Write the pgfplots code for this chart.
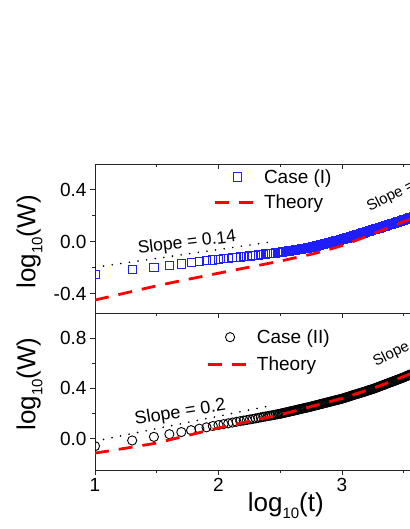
\documentclass[border=0pt]{standalone}
\usepackage{fontspec}
\setmainfont{Liberation Sans}
\usepackage{pgfplots}
\pgfplotsset{compat=1.18}
\pgfplotsset{
  panel/.style={
    scale only axis, width=370.5pt, xmin=1, xmax=4,
    axis line style={line width=0.9pt, black!85},
    tick style={line width=0.9pt, black!85},
    major tick length=5pt, minor tick length=3pt,
    tick align=outside, xtick pos=left, ytick pos=left,
    xtick={1,2,3,4}, minor x tick num=1, minor y tick num=1,
    ticklabel style={font=\fontsize{19}{19}\selectfont},
    clip marker paths=true,
    legend image code/.code={\draw[mark repeat=2,mark phase=2,##1] plot coordinates {(0pt,0pt) (22.5pt,0pt) (45pt,0pt)};},
    legend style={draw=none, fill=none, font=\fontsize{19}{19}\selectfont, inner sep=0pt, row sep=4pt, nodes={inner sep=3pt}},
    legend cell align=left,
    ylabel style={font=\fontsize{26}{26}\selectfont, anchor=center},
  },
  dots/.style={black, line width=1.8pt, line cap=round, dash pattern=on 0pt off 8.7pt},
  theory/.style={red, line width=2.8pt, dash pattern=on 14pt off 10pt, mark=none},
}
\definecolor{sqblue}{RGB}{30,30,255}
\newcommand{\lsub}{\raisebox{-7pt}{\fontsize{15}{15}\selectfont 10}}
\begin{document}
\begin{tikzpicture}
% ---------------- top panel ----------------
\begin{axis}[panel, at={(95pt,-164pt)}, anchor=north west, height=149pt,
  ymin=-0.55, ymax=0.6, ytick={-0.4,0,0.4}, yticklabels={-0.4,0.0,0.4},
  xticklabels={},
  ylabel={log\lsub(W)},
  ylabel style={at={(axis description cs:-0.177,0.477)}},
  legend style={at={(axis description cs:0.3185,0.985)}, anchor=north west}]
\addplot[dots, forget plot] coordinates {(1,-0.197) (2.40,-0.005)};
\addplot[only marks, mark=square, mark size=4.1pt, color=sqblue, draw=sqblue, mark options={draw=sqblue, line width=0.9pt},
  legend image post style={color=sqblue, draw=sqblue, mark options={draw=sqblue, line width=1pt}}] coordinates {
(1.000,-0.255)(1.301,-0.215)(1.477,-0.196)(1.602,-0.182)(1.699,-0.172)(1.778,-0.162)(1.845,-0.154)(1.903,-0.147)(1.954,-0.141)(2.000,-0.135)
(2.041,-0.131)(2.079,-0.127)(2.114,-0.124)(2.146,-0.120)(2.176,-0.117)(2.204,-0.115)(2.230,-0.112)(2.255,-0.109)(2.279,-0.107)(2.301,-0.104)
(2.322,-0.102)(2.342,-0.100)(2.362,-0.097)(2.380,-0.095)(2.398,-0.093)(2.415,-0.091)(2.431,-0.090)(2.447,-0.088)(2.462,-0.086)(2.477,-0.085)
(2.49,-0.083)(2.50,-0.082)(2.51,-0.080)(2.52,-0.079)(2.53,-0.077)(2.54,-0.076)(2.55,-0.074)(2.56,-0.073)(2.57,-0.071)(2.58,-0.070)
(2.59,-0.068)(2.60,-0.066)(2.61,-0.065)(2.62,-0.063)(2.63,-0.062)(2.64,-0.060)(2.65,-0.059)(2.66,-0.057)(2.67,-0.056)(2.68,-0.054)
(2.69,-0.052)(2.70,-0.051)(2.71,-0.049)(2.72,-0.048)(2.73,-0.046)(2.74,-0.045)(2.75,-0.043)(2.76,-0.041)(2.77,-0.038)(2.78,-0.036)
(2.79,-0.033)(2.80,-0.031)(2.81,-0.028)(2.82,-0.026)(2.83,-0.023)(2.84,-0.021)(2.85,-0.019)(2.86,-0.016)(2.87,-0.014)(2.88,-0.011)
(2.89,-0.009)(2.90,-0.006)(2.91,-0.004)(2.92,-0.001)(2.93,0.001)(2.94,0.004)(2.95,0.006)(2.96,0.008)(2.97,0.011)(2.98,0.013)
(2.99,0.016)(3.00,0.018)(3.01,0.021)(3.02,0.024)(3.03,0.027)(3.04,0.030)(3.05,0.033)(3.06,0.036)(3.07,0.039)(3.08,0.042)
(3.09,0.045)(3.10,0.048)(3.11,0.051)(3.12,0.054)(3.13,0.056)(3.14,0.059)(3.15,0.062)(3.16,0.065)(3.17,0.068)(3.18,0.071)
(3.19,0.074)(3.20,0.077)(3.21,0.080)(3.22,0.083)(3.23,0.086)(3.24,0.089)(3.25,0.092)(3.26,0.095)(3.27,0.098)(3.28,0.101)
(3.29,0.104)(3.30,0.107)(3.31,0.110)(3.32,0.113)(3.33,0.116)(3.34,0.119)(3.35,0.122)(3.36,0.125)(3.37,0.128)(3.38,0.131)
(3.39,0.134)(3.40,0.137)(3.41,0.141)(3.42,0.144)(3.43,0.147)(3.44,0.150)(3.45,0.153)(3.46,0.156)(3.47,0.159)(3.48,0.162)
(3.49,0.165)(3.50,0.168)(3.51,0.171)(3.52,0.174)(3.53,0.177)(3.54,0.180)(3.55,0.183)(3.56,0.186)(3.57,0.189)(3.58,0.192)
(3.59,0.195)(3.60,0.198)};
\addlegendentry{Case (I)}
\addplot[theory] coordinates {
(1.0,-0.450)(1.1,-0.428)(1.2,-0.406)(1.3,-0.384)(1.4,-0.362)(1.5,-0.340)(1.6,-0.320)(1.7,-0.300)(1.8,-0.281)(1.9,-0.262)
(2.0,-0.243)(2.1,-0.224)(2.2,-0.205)(2.3,-0.187)(2.4,-0.168)(2.5,-0.150)(2.6,-0.128)(2.7,-0.108)(2.8,-0.085)(2.9,-0.058)
(3.0,-0.030)(3.1,0.005)(3.2,0.042)(3.3,0.079)(3.4,0.117)(3.5,0.155)(3.6,0.190)(3.7,0.225)};
\addlegendentry{Theory}
\node[rotate=7, font=\fontsize{17.5}{17.5}\selectfont] at (axis cs:1.745,-0.012) {Slope = 0.14};
\node[rotate=27, anchor=base west, font=\fontsize{15}{15}\selectfont] at (axis cs:3.20,0.22) {Slope = 0.5};
\end{axis}
% top ticks of top panel (inward)
\begin{axis}[panel, at={(95pt,-164pt)}, anchor=north west, height=149pt,
  ymin=-0.55, ymax=0.6, xtick pos=right, tick align=inside, ytick=\empty,
  xticklabels={}, axis line style={draw=none}]
\end{axis}
% ---------------- bottom panel ----------------
\begin{axis}[panel, at={(95pt,-313pt)}, anchor=north west, height=157pt,
  ymin=-0.25, ymax=1.0, ytick={0,0.4,0.8}, yticklabels={0.0,0.4,0.8},
  xticklabels={1,2,3,4},
  ylabel={log\lsub(W)},
  ylabel style={at={(axis description cs:-0.177,0.548)}},
  xlabel={log\lsub(t)},
  xlabel style={at={(axis description cs:0.515,-0.229)}, anchor=center, font=\fontsize{26}{26}\selectfont},
  legend style={at={(axis description cs:0.2995,0.915)}, anchor=north west, row sep=6pt}]
\addplot[dots, forget plot] coordinates {(1,-0.02) (2.40,0.258)};
\addplot[only marks, mark=o, mark size=4.6pt, black, mark options={line width=0.9pt}] coordinates {
(1.000,-0.060)(1.301,-0.015)(1.477,0.014)(1.602,0.035)(1.699,0.052)(1.778,0.067)(1.845,0.079)(1.903,0.090)(1.954,0.100)(2.000,0.108)
(2.041,0.115)(2.079,0.122)(2.114,0.128)(2.146,0.134)(2.176,0.139)(2.204,0.144)(2.230,0.148)(2.255,0.153)(2.279,0.157)(2.301,0.161)
(2.322,0.165)(2.342,0.169)(2.362,0.173)(2.380,0.176)(2.398,0.179)(2.415,0.182)(2.431,0.185)(2.447,0.188)(2.462,0.191)(2.477,0.194)
(2.49,0.196)(2.50,0.198)(2.51,0.200)(2.52,0.203)(2.53,0.205)(2.54,0.207)(2.55,0.209)(2.56,0.212)(2.57,0.214)(2.58,0.216)
(2.59,0.219)(2.60,0.221)(2.61,0.223)(2.62,0.225)(2.63,0.228)(2.64,0.230)(2.65,0.232)(2.66,0.234)(2.67,0.237)(2.68,0.239)
(2.69,0.241)(2.70,0.244)(2.71,0.246)(2.72,0.248)(2.73,0.250)(2.74,0.253)(2.75,0.255)(2.76,0.258)(2.77,0.260)(2.78,0.263)
(2.79,0.265)(2.80,0.268)(2.81,0.270)(2.82,0.273)(2.83,0.275)(2.84,0.278)(2.85,0.280)(2.86,0.283)(2.87,0.285)(2.88,0.288)
(2.89,0.290)(2.90,0.293)(2.91,0.295)(2.92,0.298)(2.93,0.300)(2.94,0.303)(2.95,0.305)(2.96,0.308)(2.97,0.310)(2.98,0.313)
(2.99,0.315)(3.00,0.318)(3.01,0.321)(3.02,0.324)(3.03,0.327)(3.04,0.330)(3.05,0.333)(3.06,0.336)(3.07,0.340)(3.08,0.343)
(3.09,0.346)(3.10,0.349)(3.11,0.352)(3.12,0.355)(3.13,0.358)(3.14,0.361)(3.15,0.364)(3.16,0.367)(3.17,0.370)(3.18,0.373)
(3.19,0.376)(3.20,0.380)(3.21,0.383)(3.22,0.386)(3.23,0.389)(3.24,0.392)(3.25,0.395)(3.26,0.399)(3.27,0.402)(3.28,0.406)
(3.29,0.410)(3.30,0.414)(3.31,0.417)(3.32,0.421)(3.33,0.425)(3.34,0.428)(3.35,0.432)(3.36,0.436)(3.37,0.440)(3.38,0.443)
(3.39,0.447)(3.40,0.451)(3.41,0.454)(3.42,0.458)(3.43,0.462)(3.44,0.465)(3.45,0.469)(3.46,0.473)(3.47,0.477)(3.48,0.480)
(3.49,0.484)(3.50,0.488)(3.51,0.492)(3.52,0.496)(3.53,0.501)(3.54,0.505)(3.55,0.509)(3.56,0.513)(3.57,0.517)(3.58,0.522)
(3.59,0.526)(3.60,0.530)};
\addlegendentry{Case (II)}
\addplot[theory] coordinates {
(1.0,-0.115)(1.1,-0.100)(1.2,-0.084)(1.3,-0.068)(1.4,-0.052)(1.5,-0.035)(1.6,-0.011)(1.7,0.013)(1.8,0.037)(1.9,0.061)
(2.0,0.085)(2.1,0.106)(2.2,0.127)(2.3,0.148)(2.4,0.169)(2.5,0.190)(2.6,0.215)(2.7,0.242)(2.8,0.268)(2.9,0.294)
(3.0,0.320)(3.1,0.352)(3.2,0.384)(3.3,0.418)(3.4,0.456)(3.5,0.495)(3.6,0.535)(3.7,0.575)};
\addlegendentry{Theory}
\node[rotate=9, font=\fontsize{18}{18}\selectfont] at (axis cs:1.69,0.204) {Slope = 0.2};
\node[rotate=27, anchor=base west, font=\fontsize{15}{15}\selectfont] at (axis cs:3.25,0.56) {Slope = 0.6};
\end{axis}
\pgfresetboundingbox
\useasboundingbox (0pt,-529pt) rectangle (409pt,0pt);
\end{tikzpicture}
\end{document}
